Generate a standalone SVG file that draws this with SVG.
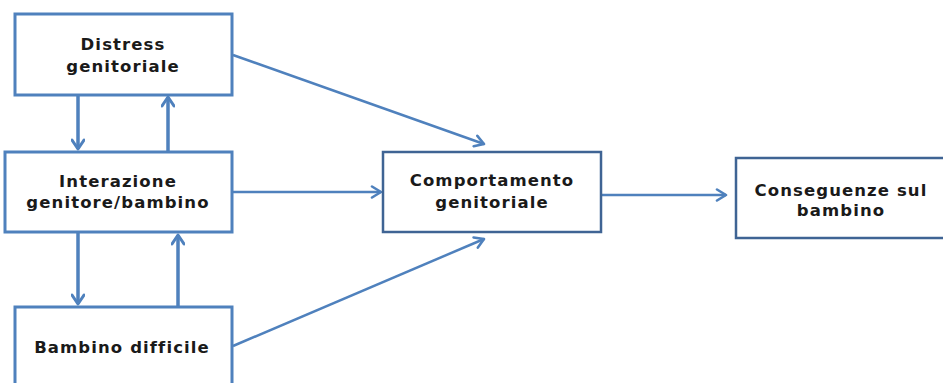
<svg xmlns="http://www.w3.org/2000/svg" width="943" height="383" viewBox="0 0 943 383">
<defs>
<marker id="ah" viewBox="0 0 14 14" refX="11" refY="7" markerWidth="14" markerHeight="14" markerUnits="userSpaceOnUse" orient="auto">
<path d="M2,1.5 L11,7 L2,12.5" fill="none" stroke="#4f81bd" stroke-width="2.6" stroke-linecap="round" stroke-linejoin="round"/>
</marker>
<marker id="ahv" viewBox="0 0 14 14" refX="11" refY="7" markerWidth="14" markerHeight="14" markerUnits="userSpaceOnUse" orient="auto">
<path d="M2,1 L11,7 L2,13" fill="none" stroke="#4f81bd" stroke-width="3" stroke-linecap="round" stroke-linejoin="round"/>
</marker>
</defs>
<style>
.box{fill:#ffffff;stroke:#4f81bd;stroke-width:3}
.dark{fill:#ffffff;stroke:#3f6494;stroke-width:2.5}
.t{font-family:"DejaVu Sans",sans-serif;font-weight:bold;font-size:16.5px;fill:#1a1a1a;text-anchor:middle;letter-spacing:1.1px}
.c{fill:none;stroke:#4f81bd;stroke-width:2.5}
.v{fill:none;stroke:#4f81bd;stroke-width:3.5}
</style>
<rect width="943" height="383" fill="#ffffff"/>
<g id="connectors">
<line class="v" x1="78" y1="95" x2="78" y2="149" marker-end="url(#ahv)"/>
<line class="v" x1="168" y1="152" x2="168" y2="97" marker-end="url(#ahv)"/>
<line class="v" x1="78" y1="232" x2="78" y2="304" marker-end="url(#ahv)"/>
<line class="v" x1="178" y1="307" x2="178" y2="235" marker-end="url(#ahv)"/>
<line class="c" x1="233" y1="55" x2="484" y2="144" marker-end="url(#ah)"/>
<line class="c" x1="232" y1="192" x2="381" y2="192" marker-end="url(#ah)"/>
<line class="c" x1="233" y1="346" x2="484" y2="239" marker-end="url(#ah)"/>
<line class="c" x1="601" y1="195" x2="726" y2="195" marker-end="url(#ah)"/>
</g>
<g id="distress">
<rect class="box" x="15" y="14" width="217" height="81"/>
<text class="t" x="123" y="50">Distress</text>
<text class="t" x="123" y="72">genitoriale</text>
</g>
<g id="interazione">
<rect class="box" x="5" y="152" width="227" height="80"/>
<text class="t" x="118" y="187">Interazione</text>
<text class="t" x="118" y="208">genitore/bambino</text>
</g>
<g id="bambino">
<rect class="box" x="15" y="307" width="217" height="90"/>
<text class="t" x="122" y="353">Bambino difficile</text>
</g>
<g id="comportamento">
<rect class="dark" x="383" y="152" width="218" height="80"/>
<text class="t" x="492" y="186">Comportamento</text>
<text class="t" x="492" y="208">genitoriale</text>
</g>
<g id="conseguenze">
<rect class="dark" x="736" y="158" width="215" height="80"/>
<text class="t" x="841" y="196">Conseguenze sul</text>
<text class="t" x="841" y="216">bambino</text>
</g>
</svg>
